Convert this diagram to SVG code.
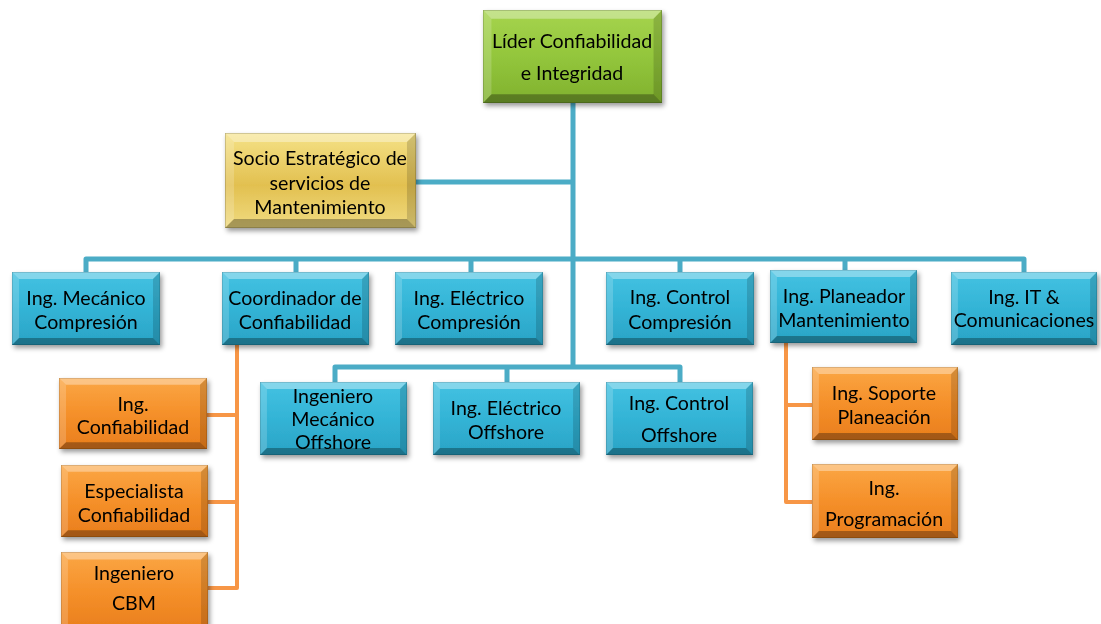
<svg xmlns="http://www.w3.org/2000/svg" xmlns:xlink="http://www.w3.org/1999/xlink" width="1101" height="624" viewBox="0 0 1101 624">
<defs>
<style>
.lbl{font-family:Lato,"Open Sans","Liberation Sans",sans-serif;font-size:19.6px;fill:#000;text-anchor:middle}
.cb{fill:none;stroke:#4BACC6;stroke-width:5;stroke-linejoin:round}
.co{fill:none;stroke:#F79646;stroke-width:4;stroke-linejoin:round}
.blue{fill:url(#gBlue)}
.orange{fill:url(#gOrange)}
.green{fill:url(#gGreen)}
.gold{fill:url(#gGold)}
.node{filter:url(#sh)}
</style>
<linearGradient id="gBlue" x1="0" y1="0" x2="0" y2="1"><stop offset="0" stop-color="#44C2E2"/><stop offset="0.5" stop-color="#33B4D6"/><stop offset="1" stop-color="#2AA3C5"/></linearGradient>
<linearGradient id="gOrange" x1="0" y1="0" x2="0" y2="1"><stop offset="0" stop-color="#FBA745"/><stop offset="0.5" stop-color="#F5902A"/><stop offset="1" stop-color="#E97E1C"/></linearGradient>
<linearGradient id="gGreen" x1="0" y1="0" x2="0" y2="1"><stop offset="0" stop-color="#A6D44E"/><stop offset="0.5" stop-color="#93C63C"/><stop offset="1" stop-color="#80B12E"/></linearGradient>
<linearGradient id="gGold" x1="0" y1="0" x2="0" y2="1"><stop offset="0" stop-color="#F5E287"/><stop offset="0.55" stop-color="#E2C050"/><stop offset="1" stop-color="#F0DB80"/></linearGradient>
<filter id="sh" x="-10%" y="-10%" width="125%" height="130%"><feDropShadow dx="2" dy="3" stdDeviation="2.5" flood-color="#000" flood-opacity="0.4"/></filter>
<symbol id="bevel" viewBox="0 0 148 74" preserveAspectRatio="none">
<polygon points="0,0 148,0 141,7 7,7" fill="#fff" fill-opacity="0.35"/>
<polygon points="0,0 7,7 7,67 0,74" fill="#fff" fill-opacity="0.18"/>
<polygon points="148,0 148,74 141,67 141,7" fill="#000" fill-opacity="0.15"/>
<polygon points="0,74 148,74 141,67 7,67" fill="#000" fill-opacity="0.3"/>
<rect x="0" y="0" width="148" height="74" fill="none" stroke="#000" stroke-opacity="0.25" stroke-width="1"/>
</symbol>
</defs>
<rect width="1101" height="624" fill="#fff"/>
<g id="connectors">
<path class="cb" d="M573,103V367"/>
<path class="cb" d="M416,182H573"/>
<path class="cb" d="M86,272V259H1024V272M296,259V272M471,259V272M680,259V272M845,259V272"/>
<path class="cb" d="M335,382V367H680V382M507,367V382"/>
<path class="co" d="M237,345V588H208M237,415H207M237,502H208"/>
<path class="co" d="M786,343V502H812M786,405H812"/>
</g>
<g id="n-lider" class="node"><rect class="green" x="483" y="10" width="179" height="93"/><use href="#bevel" x="483" y="10" width="179" height="93"/>
<text class="lbl" x="572" y="48">Líder Confiabilidad</text><text class="lbl" x="572" y="80">e Integridad</text></g>
<g id="n-socio" class="node"><rect class="gold" x="225" y="133" width="191" height="95"/><use href="#bevel" x="225" y="133" width="191" height="95"/>
<text class="lbl" x="320" y="165">Socio Estratégico de</text><text class="lbl" x="320" y="190">servicios de</text><text class="lbl" x="320" y="214">Mantenimiento</text></g>
<g id="n-mec" class="node"><rect class="blue" x="12" y="272" width="148" height="73"/><use href="#bevel" x="12" y="272" width="148" height="73"/>
<text class="lbl" x="86" y="305">Ing. Mecánico</text><text class="lbl" x="86" y="329">Compresión</text></g>
<g id="n-coord" class="node"><rect class="blue" x="222" y="272" width="147" height="73"/><use href="#bevel" x="222" y="272" width="147" height="73"/>
<text class="lbl" x="295" y="305">Coordinador de</text><text class="lbl" x="295" y="329">Confiabilidad</text></g>
<g id="n-elec" class="node"><rect class="blue" x="395" y="272" width="148" height="73"/><use href="#bevel" x="395" y="272" width="148" height="73"/>
<text class="lbl" x="469" y="305">Ing. Eléctrico</text><text class="lbl" x="469" y="329">Compresión</text></g>
<g id="n-ctrl" class="node"><rect class="blue" x="606" y="272" width="148" height="73"/><use href="#bevel" x="606" y="272" width="148" height="73"/>
<text class="lbl" x="680" y="304">Ing. Control</text><text class="lbl" x="680" y="329">Compresión</text></g>
<g id="n-plan" class="node"><rect class="blue" x="770" y="270" width="147" height="73"/><use href="#bevel" x="770" y="270" width="147" height="73"/>
<text class="lbl" x="844" y="303">Ing. Planeador</text><text class="lbl" x="844" y="327">Mantenimiento</text></g>
<g id="n-it" class="node"><rect class="blue" x="951" y="272" width="146" height="73"/><use href="#bevel" x="951" y="272" width="146" height="73"/>
<text class="lbl" x="1024" y="304">Ing. IT &amp;</text><text class="lbl" x="1024" y="327">Comunicaciones</text></g>
<g id="n-mecoff" class="node"><rect class="blue" x="260" y="382" width="147" height="73"/><use href="#bevel" x="260" y="382" width="147" height="73"/>
<text class="lbl" x="333" y="403">Ingeniero</text><text class="lbl" x="333" y="426">Mecánico</text><text class="lbl" x="333" y="449">Offshore</text></g>
<g id="n-elecoff" class="node"><rect class="blue" x="433" y="382" width="147" height="73"/><use href="#bevel" x="433" y="382" width="147" height="73"/>
<text class="lbl" x="506" y="415">Ing. Eléctrico</text><text class="lbl" x="506" y="439">Offshore</text></g>
<g id="n-ctrloff" class="node"><rect class="blue" x="606" y="382" width="147" height="73"/><use href="#bevel" x="606" y="382" width="147" height="73"/>
<text class="lbl" x="679" y="410">Ing. Control</text><text class="lbl" x="679" y="442">Offshore</text></g>
<g id="n-conf" class="node"><rect class="orange" x="59" y="378" width="148" height="71"/><use href="#bevel" x="59" y="378" width="148" height="71"/>
<text class="lbl" x="133" y="411">Ing.</text><text class="lbl" x="133" y="434">Confiabilidad</text></g>
<g id="n-esp" class="node"><rect class="orange" x="61" y="465" width="147" height="72"/><use href="#bevel" x="61" y="465" width="147" height="72"/>
<text class="lbl" x="134" y="498">Especialista</text><text class="lbl" x="134" y="522">Confiabilidad</text></g>
<g id="n-cbm" class="node"><rect class="orange" x="61" y="552" width="147" height="80"/><use href="#bevel" x="61" y="552" width="147" height="80"/>
<text class="lbl" x="134" y="580">Ingeniero</text><text class="lbl" x="134" y="610">CBM</text></g>
<g id="n-sop" class="node"><rect class="orange" x="812" y="367" width="146" height="73"/><use href="#bevel" x="812" y="367" width="146" height="73"/>
<text class="lbl" x="884" y="400">Ing. Soporte</text><text class="lbl" x="884" y="424">Planeación</text></g>
<g id="n-prog" class="node"><rect class="orange" x="812" y="464" width="146" height="74"/><use href="#bevel" x="812" y="464" width="146" height="74"/>
<text class="lbl" x="884" y="495">Ing.</text><text class="lbl" x="884" y="526">Programación</text></g>
</svg>
